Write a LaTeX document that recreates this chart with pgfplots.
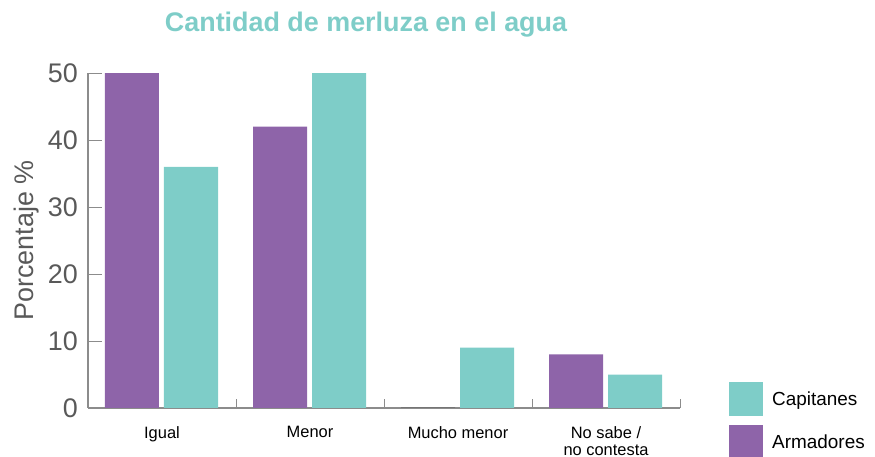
\documentclass[border=0pt]{standalone}
\usepackage{fontspec}
\setmainfont{Liberation Sans}
\usepackage{pgfplots}
\pgfplotsset{compat=1.18}
\definecolor{purp}{HTML}{8E64A9}
\definecolor{teal2}{HTML}{7ECDC8}
\definecolor{axgray}{HTML}{8C8C8C}
\definecolor{lblgray}{HTML}{595959}
\begin{document}
\begin{tikzpicture}
\useasboundingbox (-88bp,-49bp) rectangle (787bp,408bp);
\begin{axis}[
  at={(0bp,0bp)}, anchor=south west,
  scale only axis, width=592bp, height=335bp,
  xmin=-0.5, xmax=3.5, ymin=0, ymax=50,
  enlargelimits=false,
  axis lines*=left,
  axis line style={axgray, line width=1.3bp},
  tick style={axgray, line width=1bp},
  tick align=inside,
  major tick length=9bp,
  xtick={0.5,1.5,2.5,3.5},
  xticklabels={,,,},
  extra x ticks={0,1,2,3},
  extra x tick labels={Igual,Menor,Mucho menor,{No sabe /\\no contesta}},
  extra x tick style={major tick length=0pt},
  xticklabel style={align=center, font=\fontsize{16.5}{17}\selectfont, text=black, inner sep=0pt, anchor=north, yshift=-18bp},
  ytick=\empty,
  extra y ticks={0,10,20,30,40,50},
  extra y tick style={major tick length=14bp},
  yticklabel style={font=\fontsize{27}{27}\selectfont, text=lblgray, inner sep=0pt, anchor=east, xshift=-10bp},
  /pgf/number format/assume math mode=true,
  every axis y label/.style={at={(axis description cs:-0.104,0.5)}, rotate=90, anchor=center, font=\fontsize{27}{27}\selectfont, text=lblgray},
  ylabel={Porcentaje \%},
  title={Cantidad de merluza en el agua},
  every axis title/.style={at={(axis description cs:0.4696,1.1224)}, anchor=base, font=\bfseries\fontsize{27}{27}\selectfont, text=teal2},
  legend style={at={(axis description cs:1.0828,0.0776)}, anchor=north west, draw=none, fill=none, inner sep=0pt, row sep=9bp, column sep=9bp, font=\fontsize{19}{19}\selectfont, nodes={inner sep=0pt}},
  legend cell align=left,
]
\addplot[ybar, bar width=54bp, bar shift=29bp, fill=teal2, draw=none,
  legend image code/.code={\fill[teal2] (0bp,-17bp) rectangle (34bp,17bp);}]
  coordinates {(0,36) (1,50) (2,9) (3,5)};
\addlegendentry{Capitanes}
\addplot[ybar, bar width=54bp, bar shift=-30bp, fill=purp, draw=none,
  legend image code/.code={\fill[purp] (0bp,-17bp) rectangle (34bp,17bp);}]
  coordinates {(0,50) (1,42) (3,8)};
\addlegendentry{Armadores}
\addplot[ybar, bar width=54bp, bar shift=-30bp, fill=none, draw=gray!60!black, line width=1bp, forget plot]
  coordinates {(2,0)};
\end{axis}
\end{tikzpicture}
\end{document}
